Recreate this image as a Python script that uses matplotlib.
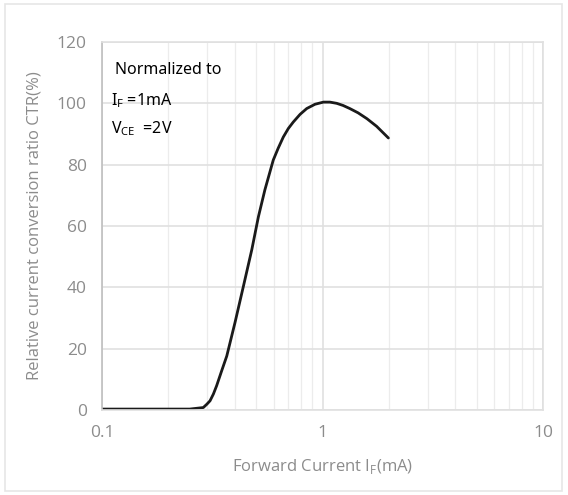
import matplotlib
matplotlib.use("Agg")
import matplotlib.pyplot as plt
import matplotlib.patches as mpatches
from matplotlib.ticker import FixedLocator, NullFormatter

# values
current_ma = [0.1, 0.2, 0.25, 0.288, 0.299, 0.309, 0.320, 0.331, 0.349, 0.368,
              0.401, 0.438, 0.478, 0.512, 0.548, 0.598, 0.629, 0.664, 0.700,
              0.737, 0.791, 0.848, 0.925, 1.01, 1.08, 1.16, 1.24, 1.33, 1.45,
              1.59, 1.76, 1.99]
ctr_pct = [0.3, 0.3, 0.3, 0.8, 1.9, 3.0, 5.2, 7.9, 12.8, 17.6,
           28.5, 40.4, 52.3, 63.0, 71.8, 81.5, 85.3, 89.0, 91.8,
           93.9, 96.4, 98.3, 99.7, 100.4, 100.4, 100.0, 99.3, 98.3, 96.9,
           95.0, 92.5, 88.7]

x_ticks = [0.1, 1, 10]
x_ticklabels = ["0.1", "1", "10"]
y_ticks = [0, 20, 40, 60, 80, 100, 120]

note_lines = ["Normalized to", r"I$_\mathregular{F}$ =1mA", r"V$_\mathregular{CE}$  =2V"]

grey = "#8c8c8c"
gridc = "#e0e0e0"

fig = plt.figure(figsize=(5.68, 4.95), dpi=100)
ax = fig.add_axes([102 / 568, 1 - 410 / 495, 441 / 568, 368 / 495])

# light outer frame like the screenshot
fig.patches.append(mpatches.Rectangle((5 / 568, 4 / 495), 557 / 568, 487 / 495,
                                      transform=fig.transFigure, fill=False,
                                      edgecolor="#e6e6e6", linewidth=1.2))

ax.set_xscale("log")
ax.set_xlim(0.1, 10)
ax.set_ylim(0, 120)

ax.xaxis.set_major_locator(FixedLocator(x_ticks))
ax.set_xticklabels(x_ticklabels)
ax.xaxis.set_minor_locator(FixedLocator([m * d for d in (0.1, 1) for m in range(2, 10)]))
ax.xaxis.set_minor_formatter(NullFormatter())
ax.set_yticks(y_ticks)

ax.grid(which="major", color=gridc, linewidth=1.2)
ax.grid(which="minor", axis="x", color="#ececec", linewidth=0.9)
ax.set_axisbelow(True)

for s in ax.spines.values():
    s.set_color(gridc)
    s.set_linewidth(1.2)
ax.spines["left"].set_color("#bfbfbf")

ax.tick_params(which="both", length=0)
ax.tick_params(axis="both", labelsize=12.5, labelcolor=grey, pad=11)
for lab in ax.get_xticklabels() + ax.get_yticklabels():
    lab.set_family("Open Sans")

ax.plot(current_ma, ctr_pct, color="#1a1a1a", linewidth=2.0,
        solid_capstyle="round", solid_joinstyle="round")

ax.set_xlabel(r"Forward Current I$_\mathregular{F}$(mA)", fontsize=12, color=grey,
              family="Open Sans", labelpad=11)
ax.set_ylabel("Relative current conversion ratio CTR(%)", fontsize=12, color=grey,
              family="Open Sans", labelpad=10)

# annotation block, top left
note_y = [70, 101, 129]
note_x = [115, 111, 111]
for txt, xp, yp in zip(note_lines, note_x, note_y):
    fig.text(xp / 568, 1 - yp / 495, txt, fontsize=11.5, color="black",
             family="Noto Sans", va="center", ha="left")

fig.savefig("out.png", dpi=100)
